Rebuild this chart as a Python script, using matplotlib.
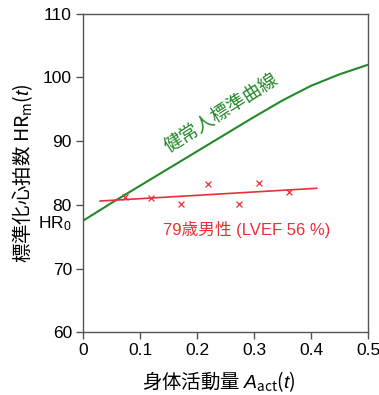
import matplotlib
matplotlib.use("Agg")
import matplotlib.pyplot as plt
import numpy as np

plt.rcParams["font.family"] = ["Liberation Sans", "Noto Sans CJK JP", "DejaVu Sans"]
plt.rcParams["mathtext.fontset"] = "custom"
plt.rcParams["mathtext.rm"] = "Liberation Sans"
plt.rcParams["mathtext.it"] = "Liberation Sans:italic"
plt.rcParams["mathtext.default"] = "regular"

GREEN = "#23892a"
RED = "#e8303a"

# standard curve for healthy people
curve_x = [0.0, 0.05, 0.1, 0.15, 0.2, 0.25, 0.3, 0.35, 0.4, 0.45, 0.5]
curve_hr = [77.5, 80.3, 83.0, 85.7, 88.4, 91.1, 93.8, 96.4, 98.7, 100.5, 102.0]

# measured points for the 79-year-old male
patient_x = [0.074, 0.120, 0.172, 0.220, 0.274, 0.309, 0.362]
patient_hr = [81.2, 81.1, 80.2, 83.2, 80.1, 83.4, 82.0]

# regression line endpoints
fit_x = [0.03, 0.41]
fit_hr = [80.6, 82.6]

x_ticks = [0, 0.1, 0.2, 0.3, 0.4, 0.5]
x_tick_labels = ["0", "0.1", "0.2", "0.3", "0.4", "0.5"]
y_ticks = [60, 70, 80, 90, 100, 110]

fig = plt.figure(figsize=(3.79, 3.95), dpi=100)
ax = fig.add_axes([0.219, 0.159, 0.752, 0.806])

ax.plot(curve_x, curve_hr, color=GREEN, linewidth=1.5, zorder=2)
ax.plot(fit_x, fit_hr, color=RED, linewidth=1.2, zorder=3)
ax.scatter(patient_x, patient_hr, marker="x", s=18, color=RED, linewidths=0.9, zorder=4)

ax.text(0.244, 94.4, "健常人標準曲線", color=GREEN, fontsize=13.5, rotation=32.5,
        ha="center", va="center", rotation_mode="anchor")
ax.text(0.14, 76.2, "79歳男性 (LVEF 56 %)", color=RED, fontsize=12,
        ha="left", va="center")
ax.text(-0.079, 77.0, "HR$_0$", fontsize=12.5, ha="left", va="center", clip_on=False)

ax.set_xlim(0, 0.5)
ax.set_ylim(60, 110)
ax.set_xticks(x_ticks)
ax.set_xticklabels(x_tick_labels)
ax.set_yticks(y_ticks)

for side in ["top", "right", "left", "bottom"]:
    ax.spines[side].set_color("#555555")
    ax.spines[side].set_linewidth(1.0)

ax.tick_params(direction="out", length=5, width=1.0, color="#555555",
               labelsize=12.5, pad=3)

# the label fonts must carry the CJK glyphs, since mathtext takes one font only
ax.set_xlabel("身体活動量 $\\mathit{A}_{act}(\\mathit{t})$", fontsize=14,
              family="Noto Sans CJK JP")
ax.set_ylabel("標準化心拍数 HR$_{m}$($\\mathit{t}$)", fontsize=14, labelpad=6,
              family="Noto Sans CJK JP")
ax.xaxis.set_label_coords(0.477, -0.115)

fig.savefig("out.png", dpi=100)
plt.close(fig)
